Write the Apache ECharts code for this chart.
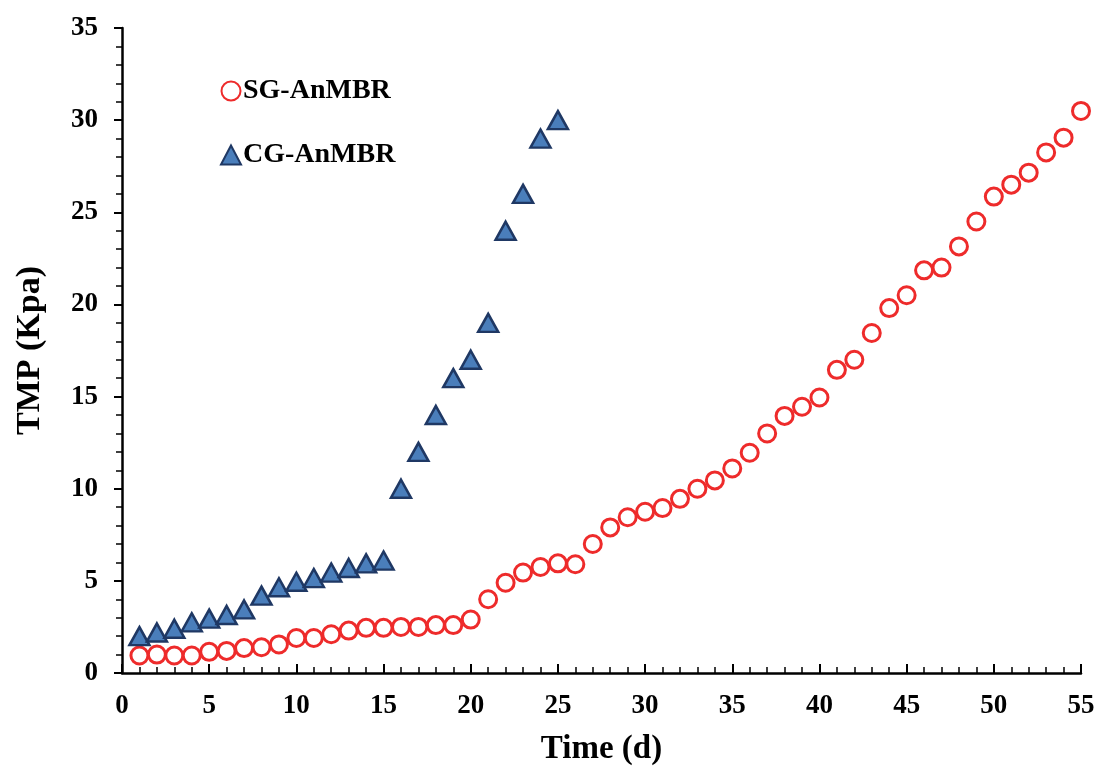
<!DOCTYPE html>
<html>
<head>
<meta charset="utf-8">
<script src="https://cdn.jsdelivr.net/npm/echarts@6/dist/echarts.min.js"></script>
<style>
  html, body { margin: 0; padding: 0; background: #fff; }
  #chart { width: 1101px; height: 774px; }
</style>
</head>
<body>
<div id="chart"></div>
<script>
// days
const sgDays = [];
for (let d = 1; d <= 55; d++) sgDays.push(d);
const cgDays = sgDays.slice(0, 25);

// TMP (Kpa)
const sgTmp = [
  0.95, 1.0, 0.95, 0.95, 1.15, 1.2, 1.35, 1.4, 1.55, 1.9,
  1.9, 2.1, 2.3, 2.45, 2.45, 2.5, 2.5, 2.6, 2.6, 2.9,
  4.0, 4.9, 5.45, 5.75, 5.95, 5.9, 7.0, 7.9, 8.45, 8.75,
  8.95, 9.45, 10.0, 10.45, 11.1, 11.95, 13.0, 13.95, 14.45, 14.95,
  16.45, 17.0, 18.45, 19.8, 20.5, 21.85, 22.0, 23.15, 24.5, 25.85,
  26.5, 27.15, 28.25, 29.05, 30.5
];
const cgTmp = [
  2.0, 2.2, 2.4, 2.75, 2.95, 3.15, 3.45, 4.2, 4.65, 4.95,
  5.15, 5.45, 5.7, 5.95, 6.1, 10.0, 12.0, 14.0, 16.0, 17.0,
  19.0, 24.0, 26.0, 29.0, 30.0
];
const seriesNames = ['SG-AnMBR', 'CG-AnMBR'];

const font = '"Liberation Serif", "DejaVu Serif", serif';

const chart = echarts.init(document.getElementById('chart'));
chart.setOption({
  backgroundColor: '#fff',
  animation: false,
  grid: { left: 122, right: 20, top: 28, bottom: 101 },
  legend: {
    orient: 'vertical',
    left: 215,
    top: 72,
    itemGap: 36,
    itemWidth: 20,
    itemHeight: 19,
    textStyle: { fontFamily: font, fontWeight: 'bold', fontSize: 28, color: '#000', padding: [0, 0, 0, -3] },
    data: seriesNames
  },
  xAxis: {
    type: 'value',
    min: 0, max: 55, interval: 5,
    name: 'Time (d)',
    nameLocation: 'middle',
    nameGap: 60,
    nameTextStyle: { fontFamily: font, fontWeight: 'bold', fontSize: 33, color: '#000' },
    axisLine: { lineStyle: { color: '#000', width: 2.5 } },
    axisTick: { inside: true, length: 9, lineStyle: { color: '#000', width: 2 } },
    minorTick: { show: true, splitNumber: 5, length: 6, lineStyle: { color: '#000', width: 1.5 } },
    axisLabel: { fontFamily: font, fontWeight: 'bold', fontSize: 27, color: '#000', margin: 20 },
    splitLine: { show: false }
  },
  yAxis: {
    type: 'value',
    min: 0, max: 35, interval: 5,
    name: 'TMP (Kpa)',
    nameLocation: 'middle',
    nameGap: 75,
    nameTextStyle: { fontFamily: font, fontWeight: 'bold', fontSize: 34, color: '#000' },
    axisLine: { show: true, lineStyle: { color: '#000', width: 2.5 } },
    axisTick: { show: true, inside: false, length: 8, lineStyle: { color: '#000', width: 2 } },
    minorTick: { show: true, splitNumber: 5, length: 6, lineStyle: { color: '#000', width: 1.5 } },
    axisLabel: { fontFamily: font, fontWeight: 'bold', fontSize: 27, color: '#000', margin: 24 },
    splitLine: { show: false }
  },
  series: [
    {
      name: seriesNames[0],
      type: 'scatter',
      symbol: 'circle',
      symbolSize: 17,
      itemStyle: { color: '#fff', borderColor: '#ee2b2b', borderWidth: 3, opacity: 1 },
      data: sgDays.map((d, i) => [d, sgTmp[i]]),
      z: 2
    },
    {
      name: seriesNames[1],
      type: 'scatter',
      symbol: 'triangle',
      symbolSize: [20, 18],
      itemStyle: { color: '#4a7ebb', borderColor: '#1f3864', borderWidth: 2.5, opacity: 1 },
      data: cgDays.map((d, i) => [d, cgTmp[i]]),
      z: 3
    }
  ]
});
</script>
</body>
</html>
